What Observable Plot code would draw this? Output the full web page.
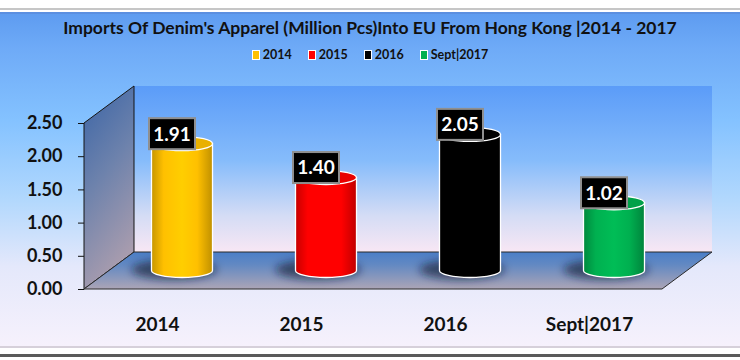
<!DOCTYPE html>
<html><head><meta charset="utf-8">
<script src="https://cdn.jsdelivr.net/npm/d3@7"></script>
<script src="https://cdn.jsdelivr.net/npm/@observablehq/plot@0.6"></script>
<style>
html,body{margin:0;padding:0;background:#fff;}
#page{position:relative;width:740px;height:360px;overflow:hidden;font-family:Lato,"Open Sans",sans-serif;}
.ln{position:absolute;left:0;width:740px;}
#topline{top:8px;height:2px;background:#c6c6c6;}
#bg{top:12px;height:334px;border-top:2px solid #5b8fe0;box-sizing:border-box;
 background:linear-gradient(to bottom,#5e9cf0 0%,#6eaaf7 10%,#84c2ff 32%,#b2d8fd 56%,#e4e8fb 76%,#f6f1fc 100%);}
#bot1{top:346px;height:2px;background:#d6d0da;}
#bot2{top:354px;height:3px;background:#5a5a5a;}
#title{position:absolute;top:17px;left:0;width:740px;text-align:center;font-weight:bold;font-size:16px;color:#111;white-space:nowrap;}
#title span{display:inline-block;}
#legend{position:absolute;top:47px;left:0;width:740px;display:flex;justify-content:center;gap:16px;font-weight:bold;font-size:12.5px;color:#111;}
#legend .it{display:flex;align-items:center;}
#legend .sw{width:6px;height:8px;border:1px solid #fff;margin-right:3px;}
#chart{position:absolute;left:0;top:70px;}
</style>
</head><body>
<div id="page">
 <div class="ln" id="topline"></div>
 <div class="ln" id="bg"></div>
 <div class="ln" id="bot1"></div>
 <div class="ln" id="bot2"></div>
 <div id="title"><span id="tspan"></span></div>
 <div id="legend"></div>
 <div id="chart"></div>
</div>
<script>
const titleText = "Imports Of Denim's Apparel (Million Pcs)Into EU From Hong Kong |2014 - 2017";
const categories = ["2014", "2015", "2016", "Sept|2017"];
const values = [1.91, 1.40, 2.05, 1.02];
const colors = ["#ffc000", "#ff0000", "#000000", "#00b050"];
const yTicks = [0, 0.5, 1, 1.5, 2, 2.5];

const data = categories.map((c, i) => ({cat: c, value: values[i], color: colors[i]}));

// header
document.getElementById("tspan").textContent = titleText;
const legend = d3.select("#legend");
data.forEach(d => {
  const it = legend.append("div").attr("class", "it");
  it.append("div").attr("class", "sw").style("background", d.color);
  it.append("span").text(d.cat);
});

const DX = 50, DY = 37; // depth of the 3D box

function bandInfo(scales) {
  const x = scales.x;
  const bw = typeof x.bandwidth === "function" ? x.bandwidth() : (x(categories[1]) - x(categories[0]));
  return {x, bw};
}

function walls(index, scales, vals, dims) {
  const {width, marginLeft, marginRight} = dims;
  const y = scales.y;
  const x0 = marginLeft, x1 = width - marginRight;
  const yT = y(y.domain()[1]), yB = y(0);
  const g = d3.create("svg:g");
  const defs = g.append("defs");
  const grad = (id, x2, y2, stops) => {
    const lg = defs.append("linearGradient").attr("id", id).attr("x1", 0).attr("y1", 0).attr("x2", x2).attr("y2", y2);
    stops.forEach(([o, c]) => lg.append("stop").attr("offset", o).attr("stop-color", c));
  };
  grad("gBack", 0, 1, [[0, "#5b9cf8"], [0.45, "#86bcfb"], [0.78, "#d4dcf5"], [1, "#f8e7f4"]]);
  grad("gLeft", 0.3, 1, [[0, "#3a64a6"], [0.5, "#6d82ac"], [1, "#a89cae"]]);
  grad("gFloor", 0, 1, [[0, "#4a7ec8"], [0.35, "#6389c2"], [1, "#aca5b6"]]);
  g.append("rect").attr("x", x0 + DX).attr("y", yT - DY).attr("width", x1 - x0).attr("height", yB - yT)
    .attr("fill", "url(#gBack)");
  g.append("path").attr("d", `M${x0},${yT}L${x0 + DX},${yT - DY}L${x0 + DX},${yB - DY}L${x0},${yB}Z`)
    .attr("fill", "url(#gLeft)").attr("stroke", "#151515").attr("stroke-width", 1);
  g.append("path").attr("d", `M${x0},${yB}L${x0 + DX},${yB - DY}L${x1 + DX},${yB - DY}L${x1},${yB}Z`)
    .attr("fill", "url(#gFloor)").attr("stroke", "#2a2a2a").attr("stroke-width", 1);
  return g.node();
}

function cylinders(index, scales, vals, dims) {
  const {x, bw} = bandInfo(scales);
  const y = scales.y;
  const g = d3.create("svg:g");
  const defs = g.append("defs");
  const f = defs.append("filter").attr("id", "blurSh").attr("x", "-50%").attr("y", "-100%").attr("width", "200%").attr("height", "300%");
  f.append("feGaussianBlur").attr("stdDeviation", 4);
  const rx = 30.5, ry = 7;
  data.forEach((d, i) => {
    const c = d3.color(d.color);
    const lg = defs.append("linearGradient").attr("id", "cyl" + i).attr("x1", 0).attr("y1", 0).attr("x2", 1).attr("y2", 0);
    [[0, c.darker(0.7)], [0.2, c], [0.5, c.brighter(0.2)], [0.75, c], [1, c.darker(0.8)]]
      .forEach(([o, col]) => lg.append("stop").attr("offset", o).attr("stop-color", col + ""));
    const cx = x(d.cat) + bw / 2 + DX / 2;
    const yb = y(0) - DY / 2, yt = y(d.value) - DY / 2;
    g.append("ellipse").attr("cx", cx - 8).attr("cy", yb - 1).attr("rx", rx + 12).attr("ry", ry + 3)
      .attr("fill", "rgba(15,25,55,0.65)").attr("filter", "url(#blurSh)");
    g.append("path")
      .attr("d", `M${cx - rx},${yt}L${cx - rx},${yb}A${rx},${ry} 0 0 0 ${cx + rx},${yb}L${cx + rx},${yt}Z`)
      .attr("fill", `url(#cyl${i})`).attr("stroke", "#ffffff").attr("stroke-width", 1.3);
    g.append("ellipse").attr("cx", cx).attr("cy", yt).attr("rx", rx).attr("ry", ry)
      .attr("fill", c.darker(0.25) + "").attr("stroke", "#ffffff").attr("stroke-width", 1.3);
  });
  return g.node();
}

function labels(index, scales, vals, dims) {
  const {x, bw} = bandInfo(scales);
  const y = scales.y;
  const g = d3.create("svg:g");
  data.forEach(d => {
    const cx = x(d.cat) + bw / 2 + DX / 2 - 10;
    const cy = y(d.value) - DY / 2 - 10;
    g.append("rect").attr("x", cx - 23).attr("y", cy - 15.5).attr("width", 46).attr("height", 31)
      .attr("fill", "#000").attr("stroke", "#8f8f8f").attr("stroke-width", 2);
    g.append("text").attr("x", cx).attr("y", cy).attr("dy", "0.36em").attr("text-anchor", "middle")
      .attr("fill", "#fff").attr("font-size", 19).attr("font-weight", "bold").text(d.value.toFixed(2));
  });
  return g.node();
}

const chart = Plot.plot({
  width: 740,
  height: 290,
  marginLeft: 84,
  marginRight: 78,
  marginTop: 53,
  marginBottom: 71,
  x: {type: "band", domain: categories, padding: 0},
  y: {domain: [0, 2.5]},
  style: {background: "transparent", fontFamily: "Lato, 'Open Sans', sans-serif", overflow: "visible", color: "#111"},
  marks: [
    walls,
    cylinders,
    labels,
    Plot.axisY({ticks: yTicks, tickFormat: d => d.toFixed(2), tickSize: 6, tickPadding: 16, fontSize: 18, fontWeight: "bold", label: null, color: "#111"}),
    Plot.axisX({tickSize: 0, tickPadding: 28, fontSize: 19, fontWeight: "bold", label: null, color: "#111"})
  ]
});
document.getElementById("chart").appendChild(chart);

// fit title to reference width
const ts = document.getElementById("tspan");
const w = ts.getBoundingClientRect().width;
if (w > 0) ts.style.fontSize = (16 * 614 / w).toFixed(2) + "px";
</script>
</body></html>
